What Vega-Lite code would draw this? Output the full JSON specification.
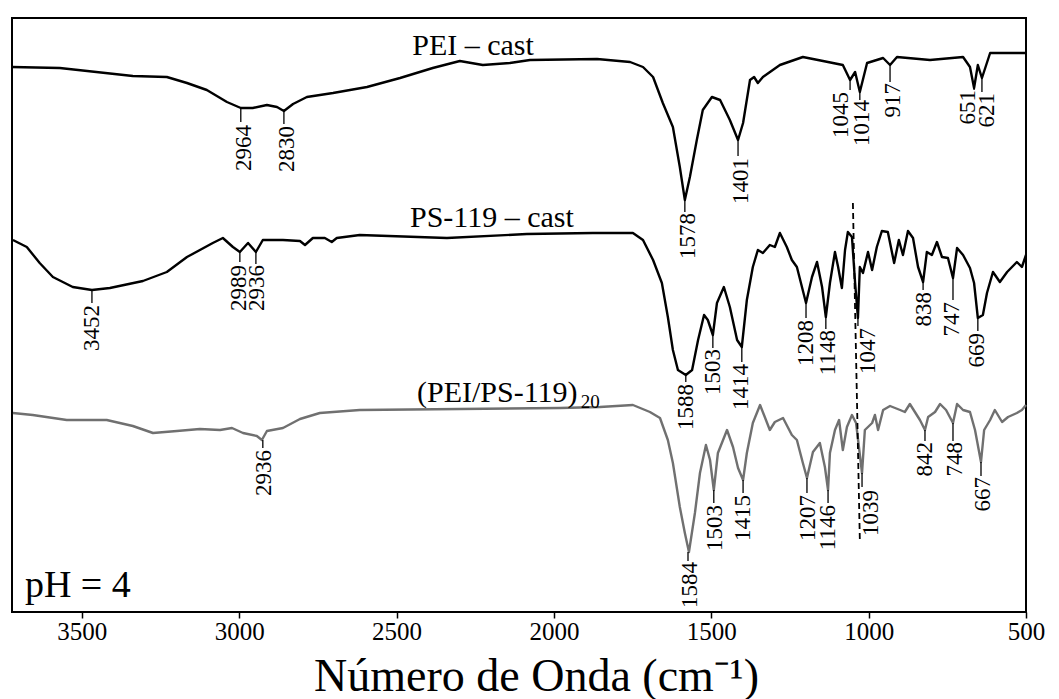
{
  "$schema": "https://vega.github.io/schema/vega-lite/v6.json",
  "width": 1014,
  "height": 594,
  "autosize": {"type": "none"},
  "padding": {"left": 12, "top": 18, "right": 33, "bottom": 87},
  "background": "white",
  "config": {"view": {"stroke": "black", "strokeWidth": 2}, "font": "Liberation Serif"},
  "datasets": {
    "spectra": [
      {"s":"PEI","wn":3722,"t":545},{"s":"PEI","wn":3570,"t":544},{"s":"PEI","wn":3338,"t":536},{"s":"PEI","wn":3230,"t":535},{"s":"PEI","wn":3166,"t":529},{"s":"PEI","wn":3103,"t":522},{"s":"PEI","wn":3039,"t":510},{"s":"PEI","wn":2995,"t":504},{"s":"PEI","wn":2957,"t":504},{"s":"PEI","wn":2912,"t":507},{"s":"PEI","wn":2880,"t":505},{"s":"PEI","wn":2858,"t":501},{"s":"PEI","wn":2829,"t":508},{"s":"PEI","wn":2785,"t":515},{"s":"PEI","wn":2702,"t":519},{"s":"PEI","wn":2594,"t":525},{"s":"PEI","wn":2489,"t":534},{"s":"PEI","wn":2385,"t":544},{"s":"PEI","wn":2299,"t":551},{"s":"PEI","wn":2226,"t":547},{"s":"PEI","wn":2140,"t":549},{"s":"PEI","wn":2076,"t":552},{"s":"PEI","wn":1863,"t":553},{"s":"PEI","wn":1758,"t":550},{"s":"PEI","wn":1717,"t":545},{"s":"PEI","wn":1685,"t":535},{"s":"PEI","wn":1654,"t":509},{"s":"PEI","wn":1622,"t":485},{"s":"PEI","wn":1600,"t":445},{"s":"PEI","wn":1584,"t":412},{"s":"PEI","wn":1568,"t":435},{"s":"PEI","wn":1546,"t":472},{"s":"PEI","wn":1527,"t":502},{"s":"PEI","wn":1498,"t":515},{"s":"PEI","wn":1472,"t":512},{"s":"PEI","wn":1441,"t":492},{"s":"PEI","wn":1415,"t":472},{"s":"PEI","wn":1399,"t":489},{"s":"PEI","wn":1377,"t":532},{"s":"PEI","wn":1364,"t":535},{"s":"PEI","wn":1352,"t":529},{"s":"PEI","wn":1336,"t":535},{"s":"PEI","wn":1282,"t":547},{"s":"PEI","wn":1209,"t":555},{"s":"PEI","wn":1145,"t":551},{"s":"PEI","wn":1082,"t":547},{"s":"PEI","wn":1059,"t":532},{"s":"PEI","wn":1043,"t":540},{"s":"PEI","wn":1028,"t":520},{"s":"PEI","wn":1005,"t":549},{"s":"PEI","wn":954,"t":554},{"s":"PEI","wn":932,"t":547},{"s":"PEI","wn":910,"t":555},{"s":"PEI","wn":805,"t":552},{"s":"PEI","wn":700,"t":555},{"s":"PEI","wn":678,"t":545},{"s":"PEI","wn":665,"t":524},{"s":"PEI","wn":653,"t":547},{"s":"PEI","wn":640,"t":534},{"s":"PEI","wn":614,"t":559},{"s":"PEI","wn":500,"t":559},
      {"s":"PS","wn":3719,"t":372},{"s":"PS","wn":3675,"t":365},{"s":"PS","wn":3634,"t":349},{"s":"PS","wn":3592,"t":335},{"s":"PS","wn":3529,"t":325},{"s":"PS","wn":3468,"t":322},{"s":"PS","wn":3411,"t":324},{"s":"PS","wn":3306,"t":331},{"s":"PS","wn":3230,"t":340},{"s":"PS","wn":3166,"t":355},{"s":"PS","wn":3084,"t":369},{"s":"PS","wn":3052,"t":374},{"s":"PS","wn":3020,"t":365},{"s":"PS","wn":2998,"t":360},{"s":"PS","wn":2972,"t":369},{"s":"PS","wn":2947,"t":360},{"s":"PS","wn":2925,"t":372},{"s":"PS","wn":2861,"t":372},{"s":"PS","wn":2807,"t":371},{"s":"PS","wn":2791,"t":367},{"s":"PS","wn":2766,"t":374},{"s":"PS","wn":2728,"t":374},{"s":"PS","wn":2706,"t":370},{"s":"PS","wn":2690,"t":374},{"s":"PS","wn":2617,"t":377},{"s":"PS","wn":2340,"t":374},{"s":"PS","wn":2086,"t":378},{"s":"PS","wn":1876,"t":379},{"s":"PS","wn":1749,"t":379},{"s":"PS","wn":1717,"t":372},{"s":"PS","wn":1685,"t":352},{"s":"PS","wn":1657,"t":329},{"s":"PS","wn":1638,"t":295},{"s":"PS","wn":1622,"t":262},{"s":"PS","wn":1606,"t":242},{"s":"PS","wn":1581,"t":237},{"s":"PS","wn":1561,"t":242},{"s":"PS","wn":1542,"t":272},{"s":"PS","wn":1523,"t":297},{"s":"PS","wn":1511,"t":292},{"s":"PS","wn":1495,"t":277},{"s":"PS","wn":1482,"t":309},{"s":"PS","wn":1460,"t":325},{"s":"PS","wn":1441,"t":305},{"s":"PS","wn":1418,"t":272},{"s":"PS","wn":1403,"t":265},{"s":"PS","wn":1387,"t":312},{"s":"PS","wn":1368,"t":345},{"s":"PS","wn":1352,"t":362},{"s":"PS","wn":1336,"t":359},{"s":"PS","wn":1314,"t":367},{"s":"PS","wn":1298,"t":365},{"s":"PS","wn":1282,"t":379},{"s":"PS","wn":1260,"t":365},{"s":"PS","wn":1244,"t":352},{"s":"PS","wn":1228,"t":345},{"s":"PS","wn":1199,"t":309},{"s":"PS","wn":1180,"t":335},{"s":"PS","wn":1164,"t":350},{"s":"PS","wn":1148,"t":325},{"s":"PS","wn":1136,"t":295},{"s":"PS","wn":1123,"t":329},{"s":"PS","wn":1107,"t":360},{"s":"PS","wn":1097,"t":345},{"s":"PS","wn":1085,"t":324},{"s":"PS","wn":1075,"t":362},{"s":"PS","wn":1066,"t":380},{"s":"PS","wn":1053,"t":375},{"s":"PS","wn":1043,"t":329},{"s":"PS","wn":1034,"t":294},{"s":"PS","wn":1028,"t":345},{"s":"PS","wn":1018,"t":339},{"s":"PS","wn":1002,"t":360},{"s":"PS","wn":989,"t":342},{"s":"PS","wn":974,"t":365},{"s":"PS","wn":958,"t":381},{"s":"PS","wn":939,"t":380},{"s":"PS","wn":919,"t":349},{"s":"PS","wn":904,"t":372},{"s":"PS","wn":891,"t":357},{"s":"PS","wn":875,"t":381},{"s":"PS","wn":859,"t":374},{"s":"PS","wn":843,"t":345},{"s":"PS","wn":827,"t":330},{"s":"PS","wn":815,"t":360},{"s":"PS","wn":799,"t":357},{"s":"PS","wn":783,"t":370},{"s":"PS","wn":767,"t":355},{"s":"PS","wn":748,"t":354},{"s":"PS","wn":732,"t":334},{"s":"PS","wn":719,"t":364},{"s":"PS","wn":700,"t":357},{"s":"PS","wn":678,"t":344},{"s":"PS","wn":665,"t":329},{"s":"PS","wn":653,"t":294},{"s":"PS","wn":637,"t":297},{"s":"PS","wn":624,"t":319},{"s":"PS","wn":605,"t":340},{"s":"PS","wn":583,"t":330},{"s":"PS","wn":560,"t":340},{"s":"PS","wn":529,"t":350},{"s":"PS","wn":513,"t":345},{"s":"PS","wn":500,"t":357},
      {"s":"LBL","wn":3719,"t":199},{"s":"LBL","wn":3656,"t":197},{"s":"LBL","wn":3548,"t":192},{"s":"LBL","wn":3421,"t":192},{"s":"LBL","wn":3338,"t":186},{"s":"LBL","wn":3274,"t":179},{"s":"LBL","wn":3198,"t":181},{"s":"LBL","wn":3125,"t":183},{"s":"LBL","wn":3061,"t":182},{"s":"LBL","wn":3023,"t":184},{"s":"LBL","wn":2988,"t":179},{"s":"LBL","wn":2944,"t":176},{"s":"LBL","wn":2928,"t":172},{"s":"LBL","wn":2912,"t":181},{"s":"LBL","wn":2861,"t":184},{"s":"LBL","wn":2807,"t":193},{"s":"LBL","wn":2744,"t":199},{"s":"LBL","wn":2617,"t":202},{"s":"LBL","wn":2299,"t":203},{"s":"LBL","wn":1981,"t":204},{"s":"LBL","wn":1854,"t":205},{"s":"LBL","wn":1749,"t":207},{"s":"LBL","wn":1695,"t":200},{"s":"LBL","wn":1663,"t":194},{"s":"LBL","wn":1638,"t":172},{"s":"LBL","wn":1622,"t":149},{"s":"LBL","wn":1600,"t":105},{"s":"LBL","wn":1584,"t":79},{"s":"LBL","wn":1571,"t":60},{"s":"LBL","wn":1552,"t":99},{"s":"LBL","wn":1536,"t":139},{"s":"LBL","wn":1517,"t":167},{"s":"LBL","wn":1504,"t":152},{"s":"LBL","wn":1492,"t":122},{"s":"LBL","wn":1479,"t":159},{"s":"LBL","wn":1450,"t":182},{"s":"LBL","wn":1431,"t":165},{"s":"LBL","wn":1415,"t":144},{"s":"LBL","wn":1399,"t":132},{"s":"LBL","wn":1387,"t":159},{"s":"LBL","wn":1368,"t":189},{"s":"LBL","wn":1345,"t":207},{"s":"LBL","wn":1330,"t":195},{"s":"LBL","wn":1314,"t":182},{"s":"LBL","wn":1298,"t":190},{"s":"LBL","wn":1272,"t":194},{"s":"LBL","wn":1244,"t":177},{"s":"LBL","wn":1228,"t":172},{"s":"LBL","wn":1209,"t":149},{"s":"LBL","wn":1196,"t":134},{"s":"LBL","wn":1177,"t":160},{"s":"LBL","wn":1155,"t":169},{"s":"LBL","wn":1139,"t":145},{"s":"LBL","wn":1129,"t":122},{"s":"LBL","wn":1123,"t":159},{"s":"LBL","wn":1107,"t":182},{"s":"LBL","wn":1094,"t":192},{"s":"LBL","wn":1082,"t":162},{"s":"LBL","wn":1069,"t":185},{"s":"LBL","wn":1053,"t":197},{"s":"LBL","wn":1040,"t":189},{"s":"LBL","wn":1021,"t":139},{"s":"LBL","wn":1012,"t":182},{"s":"LBL","wn":989,"t":189},{"s":"LBL","wn":980,"t":197},{"s":"LBL","wn":970,"t":182},{"s":"LBL","wn":954,"t":202},{"s":"LBL","wn":932,"t":206},{"s":"LBL","wn":900,"t":202},{"s":"LBL","wn":885,"t":200},{"s":"LBL","wn":869,"t":208},{"s":"LBL","wn":853,"t":200},{"s":"LBL","wn":837,"t":192},{"s":"LBL","wn":821,"t":182},{"s":"LBL","wn":811,"t":195},{"s":"LBL","wn":789,"t":200},{"s":"LBL","wn":773,"t":208},{"s":"LBL","wn":754,"t":202},{"s":"LBL","wn":732,"t":189},{"s":"LBL","wn":719,"t":208},{"s":"LBL","wn":700,"t":202},{"s":"LBL","wn":678,"t":200},{"s":"LBL","wn":662,"t":182},{"s":"LBL","wn":643,"t":150},{"s":"LBL","wn":633,"t":182},{"s":"LBL","wn":614,"t":192},{"s":"LBL","wn":599,"t":202},{"s":"LBL","wn":576,"t":190},{"s":"LBL","wn":557,"t":195},{"s":"LBL","wn":529,"t":199},{"s":"LBL","wn":513,"t":202},{"s":"LBL","wn":500,"t":207}
    ],
    "peaks": [
      {"label":"2964","wn":2995,"y1":504,"y2":490,"tx":2985,"ty":487},
      {"label":"2830","wn":2858,"y1":501,"y2":488,"tx":2849,"ty":486},
      {"label":"1578","wn":1584,"y1":412,"y2":400,"tx":1574,"ty":399},
      {"label":"1401","wn":1415,"y1":472,"y2":456,"tx":1406,"ty":454},
      {"label":"1045","wn":1059,"y1":532,"y2":522,"tx":1088,"ty":520},
      {"label":"1014","wn":1028,"y1":520,"y2":512,"tx":1021,"ty":512},
      {"label":"917","wn":932,"y1":547,"y2":530,"tx":923,"ty":529},
      {"label":"651","wn":665,"y1":524,"y2":522,"tx":684,"ty":522},
      {"label":"621","wn":640,"y1":534,"y2":520,"tx":624,"ty":519},
      {"label":"3452","wn":3468,"y1":322,"y2":309,"tx":3468,"ty":307},
      {"label":"2989","wn":2998,"y1":360,"y2":350,"tx":3001,"ty":347},
      {"label":"2936","wn":2947,"y1":360,"y2":348,"tx":2944,"ty":347},
      {"label":"1588","wn":1581,"y1":237,"y2":230,"tx":1581,"ty":228},
      {"label":"1503","wn":1495,"y1":277,"y2":264,"tx":1495,"ty":263},
      {"label":"1414","wn":1403,"y1":265,"y2":250,"tx":1406,"ty":248},
      {"label":"1208","wn":1199,"y1":309,"y2":294,"tx":1199,"ty":292},
      {"label":"1148","wn":1136,"y1":295,"y2":283,"tx":1129,"ty":282},
      {"label":"1047","wn":1034,"y1":294,"y2":286,"tx":1002,"ty":284},
      {"label":"838","wn":827,"y1":330,"y2":322,"tx":824,"ty":320},
      {"label":"747","wn":732,"y1":334,"y2":312,"tx":735,"ty":310},
      {"label":"669","wn":653,"y1":294,"y2":281,"tx":656,"ty":279},
      {"label":"2936","wn":2925,"y1":172,"y2":164,"tx":2922,"ty":162},
      {"label":"1584","wn":1574,"y1":60,"y2":51,"tx":1568,"ty":50},
      {"label":"1503","wn":1492,"y1":122,"y2":109,"tx":1488,"ty":107},
      {"label":"1415","wn":1399,"y1":132,"y2":119,"tx":1399,"ty":117},
      {"label":"1207","wn":1196,"y1":134,"y2":119,"tx":1193,"ty":117},
      {"label":"1146","wn":1129,"y1":122,"y2":109,"tx":1129,"ty":107},
      {"label":"1039","wn":1021,"y1":139,"y2":125,"tx":993,"ty":122},
      {"label":"842","wn":821,"y1":182,"y2":171,"tx":821,"ty":170},
      {"label":"748","wn":732,"y1":189,"y2":171,"tx":726,"ty":170},
      {"label":"667","wn":643,"y1":150,"y2":136,"tx":637,"ty":135}
    ]
  },
  "layer": [
    {
      "data": {"name": "spectra"},
      "mark": {"type": "line", "interpolate": "linear", "strokeJoin": "round"},
      "encoding": {
        "x": {"field": "wn", "type": "quantitative",
              "scale": {"domain": [500, 3722], "reverse": true, "nice": false, "zero": false},
              "axis": {"values": [3500, 3000, 2500, 2000, 1500, 1000, 500], "format": "d", "grid": false, "domain": false,
                       "tickSize": 6, "tickColor": "black", "tickWidth": 1.5, "labelFlush": false,
                       "labelFont": "Liberation Serif", "labelFontSize": 25, "labelColor": "black", "labelPadding": 1,
                       "title": "Número de Onda (cm⁻¹)", "titleFont": "Liberation Serif", "titleFontSize": 46,
                       "titleFontWeight": "normal", "titleColor": "black", "titleX": 524, "titleY": 78,
                       "titleBaseline": "alphabetic", "titleAlign": "center"}},
        "y": {"field": "t", "type": "quantitative", "scale": {"domain": [0, 594], "nice": false, "zero": false}, "axis": null},
        "color": {"field": "s", "type": "nominal", "scale": {"domain": ["PEI", "PS", "LBL"], "range": ["#000000", "#000000", "#707070"]}, "legend": null},
        "size": {"field": "s", "type": "nominal", "scale": {"domain": ["PEI", "PS", "LBL"], "range": [2.4, 2.4, 1.3]}, "legend": null}
      }
    },
    {
      "data": {"name": "peaks"},
      "mark": {"type": "rule", "color": "black", "strokeWidth": 1.3},
      "encoding": {
        "x": {"field": "wn", "type": "quantitative"},
        "y": {"field": "y1", "type": "quantitative"},
        "y2": {"field": "y2"}
      }
    },
    {
      "data": {"name": "peaks"},
      "mark": {"type": "text", "angle": 270, "align": "right", "baseline": "middle", "font": "Liberation Serif", "fontSize": 23, "color": "black"},
      "encoding": {
        "x": {"field": "tx", "type": "quantitative"},
        "y": {"field": "ty", "type": "quantitative"},
        "text": {"field": "label"}
      }
    },
    {
      "data": {"values": [{"xa": 1050, "xb": 1028, "ya": 409, "yb": 72}]},
      "mark": {"type": "rule", "color": "black", "strokeWidth": 1.8, "strokeDash": [6, 4]},
      "encoding": {
        "x": {"field": "xa", "type": "quantitative"},
        "x2": {"field": "xb"},
        "y": {"field": "ya", "type": "quantitative"},
        "y2": {"field": "yb"}
      }
    },
    {
      "data": {"values": [{"name": "PEI – cast", "wn": 2257, "t": 557}, {"name": "PS-119 – cast", "wn": 2197, "t": 385}]},
      "mark": {"type": "text", "align": "center", "baseline": "alphabetic", "font": "Liberation Serif", "fontSize": 30, "color": "black"},
      "encoding": {
        "x": {"field": "wn", "type": "quantitative"},
        "y": {"field": "t", "type": "quantitative"},
        "text": {"field": "name"}
      }
    },
    {
      "data": {"values": [{"name": "(PEI/PS-119)", "wn": 2435, "t": 210}]},
      "mark": {"type": "text", "align": "left", "baseline": "alphabetic", "font": "Liberation Serif", "fontSize": 30, "color": "black"},
      "encoding": {
        "x": {"field": "wn", "type": "quantitative"},
        "y": {"field": "t", "type": "quantitative"},
        "text": {"field": "name"}
      }
    },
    {
      "data": {"values": [{"name": "20", "wn": 1915, "t": 204}]},
      "mark": {"type": "text", "align": "left", "baseline": "alphabetic", "font": "Liberation Serif", "fontSize": 19, "color": "black"},
      "encoding": {
        "x": {"field": "wn", "type": "quantitative"},
        "y": {"field": "t", "type": "quantitative"},
        "text": {"field": "name"}
      }
    },
    {
      "data": {"values": [{"name": "pH = 4", "wn": 3681, "t": 15}]},
      "mark": {"type": "text", "align": "left", "baseline": "alphabetic", "font": "Liberation Serif", "fontSize": 38, "color": "black"},
      "encoding": {
        "x": {"field": "wn", "type": "quantitative"},
        "y": {"field": "t", "type": "quantitative"},
        "text": {"field": "name"}
      }
    }
  ]
}
